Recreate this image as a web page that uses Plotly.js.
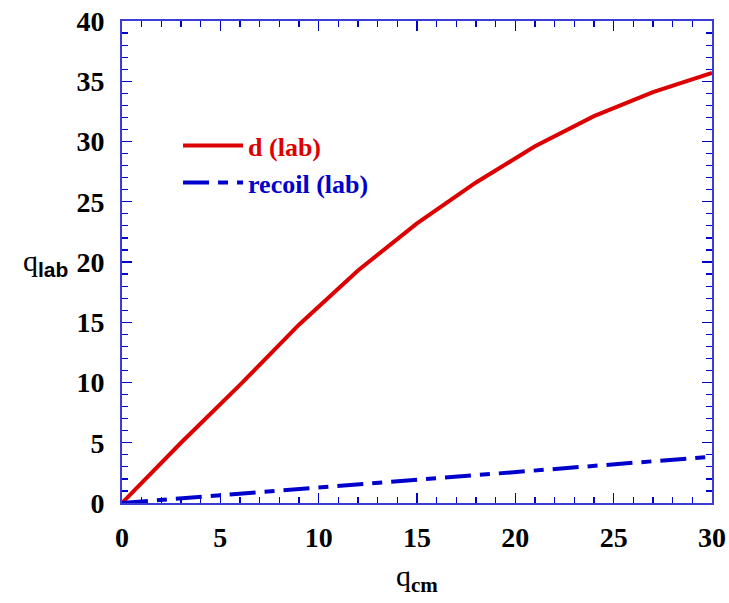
<!DOCTYPE html>
<html>
<head>
<meta charset="utf-8">
<script src="https://cdn.plot.ly/plotly-3.0.1.min.js"></script>
<style>html,body{margin:0;padding:0;background:#fff}#chart{width:729px;height:603px}</style>
</head>
<body>
<div id="chart"></div>
<script>
// Data
const thetaCmD = [0, 3, 6, 9, 12, 15, 18, 21, 24, 27, 30];
const thetaLabD = [0, 5.0, 9.8, 14.8, 19.3, 23.2, 26.6, 29.6, 32.1, 34.1, 35.7];
const thetaCmRecoil = [0, 5, 10, 15, 20, 25, 30];
const thetaLabRecoil = [0, 0.65, 1.27, 1.9, 2.55, 3.2, 3.85];
const seriesNames = ['d (lab)', 'recoil (lab)'];
const xTicks = [0, 5, 10, 15, 20, 25, 30];
const yTicks = [0, 5, 10, 15, 20, 25, 30, 35, 40];

const RED = '#dd0000';
const BLUE = '#0000cc';
const AXIS = '#3b3bd6';
const SERIF = '"Liberation Serif", "Times New Roman", serif';

const traces = [
  {x: thetaCmD, y: thetaLabD, mode: 'lines', name: '<b><span style="color:' + RED + '">' + seriesNames[0] + '</span></b>',
   line: {color: RED, width: 4}},
  {x: thetaCmRecoil, y: thetaLabRecoil, mode: 'lines', name: '<b><span style="color:' + BLUE + '">' + seriesNames[1] + '</span></b>',
   line: {color: BLUE, width: 4, dash: '26px,9px,10px,9px'}}
];

const axisCommon = {
  showgrid: false, zeroline: false, showline: true, linecolor: AXIS, linewidth: 2,
  mirror: 'allticks', ticks: 'inside', ticklen: 10, tickwidth: 1.2, tickcolor: BLUE,
  tickfont: {family: SERIF, size: 28, color: '#000', weight: 'bold'},
  minor: {dtick: 1, ticks: 'inside', ticklen: 6, tickwidth: 1.2, tickcolor: BLUE},
  fixedrange: true
};

const layout = {
  width: 729, height: 603,
  margin: {l: 122, r: 17, t: 21, b: 100},
  paper_bgcolor: '#fff', plot_bgcolor: '#fff',
  showlegend: true,
  legend: {x: 0.095, y: 0.79, xanchor: 'left', yanchor: 'top', bgcolor: 'rgba(0,0,0,0)',
           font: {family: SERIF, size: 26}, itemwidth: 60, tracegroupgap: 0},
  xaxis: Object.assign({}, axisCommon, {range: [0, 30], tickvals: xTicks, ticktext: xTicks.map(String), ticklabelstandoff: 8}),
  yaxis: Object.assign({}, axisCommon, {range: [0, 40], tickvals: yTicks, ticktext: yTicks.map(String), ticklabelstandoff: 10}),
  annotations: [
    {xref: 'paper', yref: 'paper', x: -0.13, y: 0.5, xanchor: 'center', yanchor: 'middle', showarrow: false,
     text: 'q<sub><span style="font-family:Liberation Sans;font-weight:bold">lab</span></sub>',
     font: {family: SERIF, size: 30, color: '#000'}},
    {xref: 'paper', yref: 'paper', x: 0.5, y: -0.155, xanchor: 'center', yanchor: 'middle', showarrow: false,
     text: 'q<sub><b>cm</b></sub>',
     font: {family: SERIF, size: 30, color: '#000'}}
  ]
};

Plotly.newPlot('chart', traces, layout, {displayModeBar: false, staticPlot: true});
</script>
</body>
</html>
